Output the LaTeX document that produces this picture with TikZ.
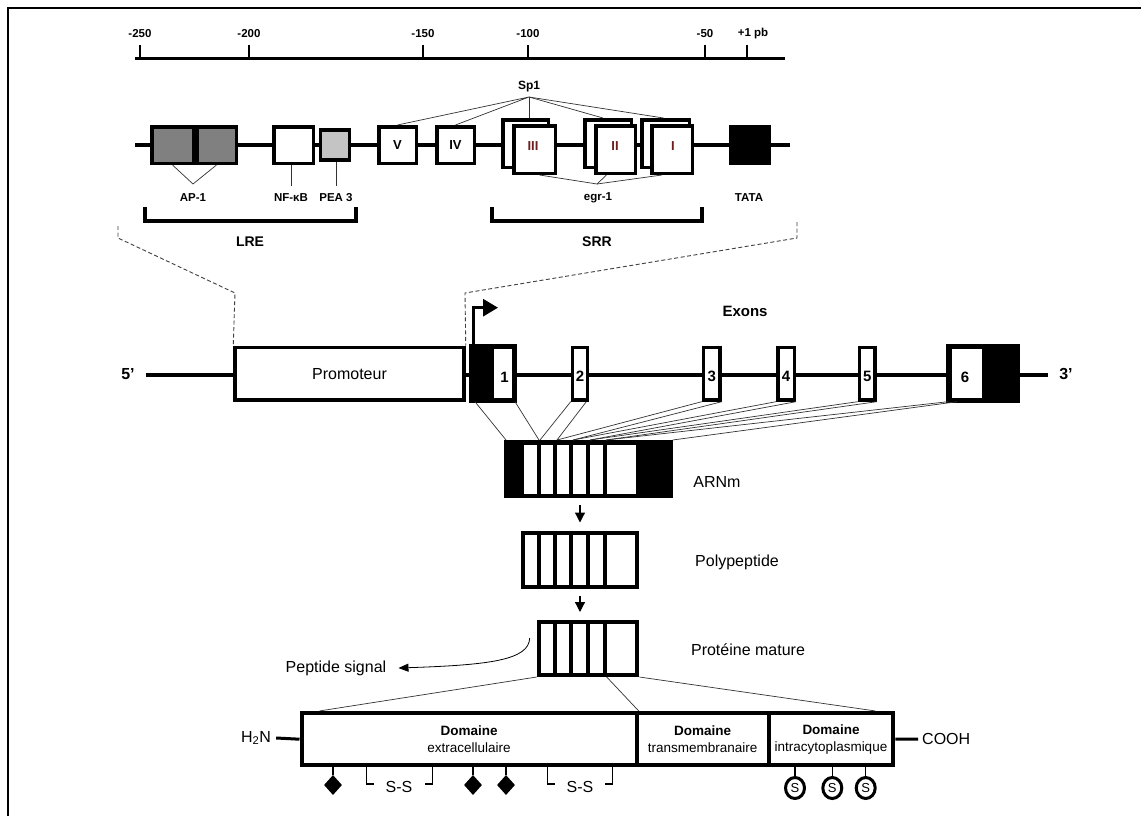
\documentclass[tikz,border=0pt]{standalone}
\usepackage{fontspec}
\setmainfont{Liberation Sans}
\usetikzlibrary{arrows.meta,shapes.geometric,calc}
\newcommand{\myfs}[1]{\fontsize{#1}{#1}\selectfont}
\definecolor{apgrey}{RGB}{128,128,128}
\definecolor{peagrey}{RGB}{196,196,196}
\definecolor{numred}{RGB}{110,30,30}
\begin{document}
\begin{tikzpicture}[x=1pt,y=-1pt,
  pbox/.style={draw, line width=3.5pt, fill=white, rectangle, inner sep=0pt, minimum height=36.5pt},
  dbl/.style={draw, line width=3.5pt, fill=white, rectangle, inner sep=0pt, minimum height=47.5pt},
  ebox/.style={draw, line width=3.5pt, fill=white, rectangle, inner sep=0pt, minimum height=52.5pt},
  dbox/.style={draw, line width=4pt, fill=white, rectangle, inner sep=0pt, minimum height=52.5pt, align=center, font=\fontsize{13.5}{17}\selectfont},
  thinln/.style={line width=0.7pt, black!80},
  dashln/.style={line width=0.9pt, black!75, dash pattern=on 4pt off 2.5pt},
  rullbl/.style={inner sep=0pt, font=\myfs{11.5}\bfseries},
  smlbl/.style={inner sep=0pt, font=\myfs{11.5}\bfseries},
  numlbl/.style={inner sep=0pt, font=\myfs{13}\bfseries},
  biglbl/.style={inner sep=0pt, font=\myfs{14}\bfseries},
  exlbl/.style={inner sep=0pt, font=\myfs{15}\bfseries},
  txtlbl/.style={inner sep=0pt, font=\myfs{16}},
  arr/.style={line width=1.2pt, -{Triangle[length=10pt,width=10pt]}}
]
\useasboundingbox (0,0) rectangle (1141,816);
\fill[white] (0,0) rectangle (1141,816);
% frame
\coordinate (fa) at (8,816); \coordinate (fb) at (8,8); \coordinate (fc) at (1141,8);
\draw[line width=2pt] (fa) -- (fb) -- (fc);

% ruler
\coordinate (ra) at (135,58.3); \coordinate (rb) at (785,58.3);
\draw[line width=3pt] (ra) -- (rb);
\foreach \x/\t/\n in {140/-250/a, 249/-200/b, 423/-150/c, 528/-100/d, 705/-50/e} {
  \node[rullbl] (rl\n) at (\x,34) {\t};
  \draw[line width=2.5pt] (\x,45) -- (\x,58);
}
\node[rullbl] (rlf) at (753,34) {+1 pb};
\draw[line width=2.5pt] (747,45) -- (747,58);

% promoter detail
\coordinate (da) at (135,145); \coordinate (db) at (790,145);
\draw[line width=3.5pt] (da) -- (db);
\node[pbox, fill=apgrey, minimum width=41.5pt] (apa) at (172.5,145) {};
\node[pbox, fill=apgrey, minimum width=39.5pt] (apb) at (216.5,145) {};
\node[pbox, minimum width=39.5pt] (nfkb) at (293.5,145) {};
\node[pbox, fill=peagrey, minimum width=29pt, minimum height=29.8pt] (pea) at (335,145) {};
\node[pbox, minimum width=37.5pt, font=\myfs{13}\bfseries] (bV) at (397.5,145) {V};
\node[pbox, minimum width=37.5pt, font=\myfs{13}\bfseries] (bIV) at (455.5,145) {IV};
\node[dbl, minimum width=45.5pt] (bIIIb) at (525.5,143.5) {};
\node[dbl, minimum width=41.5pt] (bIII) at (534.5,149.5) {};
\node[numlbl, text=numred] (lIII) at (533,146) {III};
\node[dbl, minimum width=46.5pt] (bIIb) at (608,143.5) {};
\node[dbl, minimum width=39.5pt] (bII) at (615.5,149.5) {};
\node[numlbl, text=numred] (lII) at (615,146) {II};
\node[dbl, minimum width=47.5pt] (bIb) at (665.5,143.5) {};
\node[dbl, minimum width=40.5pt] (bI) at (672,149.5) {};
\node[numlbl, text=numred] (lI) at (673,146) {I};
\node[pbox, fill=black, minimum width=39.4pt] (tata) at (750,145) {};

% Sp1
\node[inner sep=0pt, font=\myfs{12}\bfseries] (sp1) at (529,87) {Sp1};
\coordinate (spa) at (529,97);
\draw[thinln] (bV.north) -- (spa) -- (bIV.north);
\draw[thinln] (spa) -- ([xshift=3.5pt]bIIIb.north);
\draw[thinln] (spa) -- ([xshift=-5pt]bIIb.north);
\draw[thinln] (spa) -- ([xshift=-2pt]bIb.north);

% labels under
\node[smlbl] (lap) at (193,198) {AP-1};
\node[smlbl] (lnf) at (291,198) {NF-κB};
\node[smlbl] (lpea) at (336,198) {PEA 3};
\node[smlbl] (legr) at (598,198) {egr-1};
\node[smlbl] (ltata) at (749,198) {TATA};
\coordinate (apv) at (193,184);
\draw[thinln] (apa.south) -- (apv) -- (apb.south);
\draw[thinln] (lnf.north |- nfkb.south) -- ([yshift=8pt]lnf.north);
\draw[thinln] (lpea.north |- pea.south) -- ([yshift=8pt]lpea.north);
\coordinate (egv) at (597,184);
\draw[thinln] ([xshift=5pt]bIII.south) -- (egv) -- ([xshift=-10pt]bI.south);
\draw[thinln] (egv) -- ([xshift=-9pt]bII.south);

% brackets
\draw[line width=3.5pt] (145,206.7) -- (145,221) -- (356,221) -- (356,206.7);
\draw[line width=3.5pt] (492,206.7) -- (492,221) -- (702,221) -- (702,206.7);
\node[biglbl] (lre) at (250,242) {LRE};
\node[biglbl] (srr) at (597,242) {SRR};

% gene
\coordinate (ga) at (146,374.5); \coordinate (gb) at (1048,374.5);
\draw[line width=4pt] (ga) -- (gb);
\node[inner sep=0pt, font=\myfs{16}\bfseries] (p5) at (128,374) {5'};
\node[inner sep=0pt, font=\myfs{16}\bfseries] (p3) at (1066,374) {3'};
\node[ebox, minimum width=229pt, font=\myfs{16}] (prom) at (349.5,373.7) {Promoteur};
\node[ebox, minimum width=40.5pt] (e1) at (493,373.7) {};
\fill[black] (e1.north west) rectangle ($(e1.south west)+(22.5,0)$);
\draw[line width=3.5pt] (e1.north west) rectangle (e1.south east);
\node[exlbl] (n1) at (504.5,377) {1};
\node[ebox, minimum width=15.1pt] (e2) at (580,373.7) {};
\node[exlbl] (n2) at (580,376) {2};
\node[ebox, minimum width=16.5pt] (e3) at (711.7,373.7) {};
\node[exlbl] (n3) at (711.7,376.5) {3};
\node[ebox, minimum width=16.5pt] (e4) at (786,373.7) {};
\node[exlbl] (n4) at (786,376.5) {4};
\node[ebox, minimum width=15.5pt] (e5) at (867.2,373.7) {};
\node[exlbl] (n5) at (867.2,376.5) {5};
\node[ebox, minimum width=66.8pt] (e6) at (983.2,373.7) {};
\fill[black] ($(e6.north west)+(33.7,0)$) rectangle (e6.south east);
\draw[line width=3.5pt] (e6.north west) rectangle (e6.south east);
\node[exlbl] (n6) at (965,377) {6};
\node[exlbl] (exons) at (745,311) {Exons};

% TSS arrow
\draw[line width=3pt, -{Triangle[length=15pt,width=17pt]}] ([xshift=2pt]e1.north west) -- ++(0,-38) -- ++(25,0);

% dashed zoom lines
\draw[dashln] (118,226) -- (118,238) -- (235,293) -- (prom.north west);
\draw[dashln] (797,222) -- (797,238) -- (465,293) -- (prom.north east);

% mRNA
\node[draw, line width=2pt, fill=black, inner sep=0pt, minimum width=166.7pt, minimum height=56.3pt] (mr) at (588.35,469.15) {};
\foreach \a/\b in {524/536.7, 540.7/553.3, 557.3/569.3, 573.3/586, 590/602.7, 606.7/636}
  \fill[white] (\a,445) rectangle (\b,494);
\node[txtlbl] (larn) at (717,482) {ARNm};

% exon -> mRNA lines
\draw[thinln] ([xshift=4pt]e1.south west) -- ([xshift=2pt]mr.north west);
\draw[thinln] (e1.south east) -- ([xshift=35pt]mr.north west);
\draw[thinln] (e2.south west) -- ([xshift=36pt]mr.north west);
\draw[thinln] ([xshift=-3pt]e2.south east) -- ([xshift=53pt]mr.north west);
\draw[thinln] (e3.south west) -- ([xshift=53pt]mr.north west);
\draw[thinln] (e3.south east) -- ([xshift=69pt]mr.north west);
\draw[thinln] (e4.south west) -- ([xshift=69pt]mr.north west);
\draw[thinln] (e4.south east) -- ([xshift=86pt]mr.north west);
\draw[thinln] (e5.south west) -- ([xshift=86pt]mr.north west);
\draw[thinln] (e5.south east) -- ([xshift=102pt]mr.north west);
\draw[thinln] (e6.south west) -- ([xshift=102pt]mr.north west);
\draw[thinln] ([xshift=-8pt]n6.south |- e6.south) -- (mr.north east);

% polypeptide
\node[draw, line width=4pt, fill=white, inner sep=0pt, minimum width=114.6pt, minimum height=54pt] (pp) at (580,559.5) {};
\foreach \x in {538.7,555.3,571.3,588,604.7}
  \draw[line width=4pt] (\x,532.5) -- (\x,586.5);
\node[txtlbl] (lpp) at (737,562) {Polypeptide};

% mature protein
\node[draw, line width=4pt, fill=white, inner sep=0pt, minimum width=98.6pt, minimum height=53pt] (pm) at (588,648.5) {};
\foreach \x in {555.3,571.3,588,604.7}
  \draw[line width=4pt] (\x,622) -- (\x,675);
\node[txtlbl] (lpm) at (748,650) {Protéine mature};

\draw[arr] ($(mr.south -| pp.north)+(0,7)$) -- ($(pp.north)+(0,-8)$);
\draw[arr] ($(pp.south)+(0,7)$) -- ($(pp.south |- pm.north)+(0,-8)$);

% peptide signal
\node[txtlbl] (psig) at (336,668) {Peptide signal};
\draw[line width=0.8pt, -{Triangle[length=10pt,width=8pt]}] ($(pm.north west)+(-7,18)$) .. controls (529,660) and (490,665) .. ($(psig.east)+(12,0)$);

% domains
\node[dbox, minimum width=335.2pt] (dom1) at (469.1,739.2) {\textbf{Domaine}\\extracellulaire};
\node[dbox, minimum width=132pt] (dom2) at (702.7,739.2) {\textbf{Domaine}\\transmembranaire};
\node[dbox, minimum width=124.6pt] (dom3) at (831,739.2) {\textbf{Domaine}\\intracytoplasmique};

\draw[thinln] (pm.south west) -- ($(dom1.north west)+(20,0)$);
\draw[thinln] ($(pm.south)+(18.7,0)$) -- (dom1.north east);
\draw[thinln] (pm.south east) -- ($(dom3.north east)+(-20,0)$);

\node[txtlbl] (h2n) at (256,738) {H\textsubscript{2}N};
\draw[line width=3pt] ($(h2n.east)+(5,0)$) -- (dom1.west);
\node[txtlbl, anchor=west] (cooh) at (922,739) {COOH};
\draw[line width=3pt] (dom3.east) -- ($(cooh.west)+(-4,0)$);

% diamonds
\foreach \x/\n in {333/a, 473/b, 506/c} {
  \node[diamond, fill=black, inner sep=0pt, minimum width=18pt, minimum height=20pt] (dm\n) at (\x,785) {};
  \draw[line width=1.5pt] (dm\n.north) -- (dm\n.north |- dom1.south);
}
% S-S
\node[txtlbl] (ss1) at (399,787) {S-S};
\node[txtlbl] (ss2) at (580,787) {S-S};
\draw[line width=1.3pt] (366.7,767) -- (366.7,784) -- (374,784);
\draw[line width=1.3pt] (425,784) -- (432.7,784) -- (432.7,767);
\draw[line width=1.3pt] (547.7,767) -- (547.7,784) -- (555,784);
\draw[line width=1.3pt] (605,784) -- (612.3,784) -- (612.3,767);

% S circles
\foreach \x/\n in {795/a, 832.3/b, 865.7/c} {
  \node[ellipse, draw, line width=3pt, inner sep=0pt, minimum width=19pt, minimum height=21pt, font=\myfs{13}] (sc\n) at (\x,788) {S};
  \draw[line width=1.5pt] (sc\n.north) -- (sc\n.north |- dom3.south);
}
\end{tikzpicture}
\end{document}
